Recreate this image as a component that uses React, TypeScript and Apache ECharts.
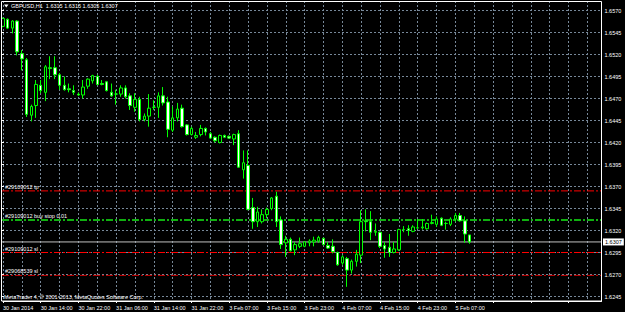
import { useEffect, useRef } from 'react';
import * as echarts from 'echarts';

const symbol = 'GBPUSD,H1';
const copyright = 'MetaTrader 4, © 2001-2013, MetaQuotes Software Corp.';

const opens = [
  1.6552, 1.6560, 1.6550, 1.6558, 1.6521, 1.6514, 1.6451, 1.6462, 1.6485, 1.6477,
  1.6505, 1.6505, 1.6497, 1.6485, 1.6481, 1.6479, 1.6475, 1.6474, 1.6484, 1.6490,
  1.6495, 1.6487, 1.6489, 1.6477, 1.6475, 1.6475, 1.6482, 1.6473, 1.6460, 1.6469,
  1.6446, 1.6450, 1.6460, 1.6460, 1.6473, 1.6466, 1.6434, 1.6448, 1.6459, 1.6440,
  1.6429, 1.6426, 1.6429, 1.6436, 1.6430, 1.6426, 1.6420, 1.6428, 1.6427, 1.6424,
  1.6430, 1.6389, 1.6394, 1.6346, 1.6330, 1.6330, 1.6338, 1.6345, 1.6359, 1.6332,
  1.6306, 1.6310, 1.6298, 1.6302, 1.6302, 1.6306, 1.6307, 1.6308, 1.6311, 1.6303,
  1.6302, 1.6295, 1.6283, 1.6288, 1.6275, 1.6285, 1.6292, 1.6331, 1.6330, 1.6318,
  1.6318, 1.6303, 1.6301, 1.6295, 1.6298, 1.6321, 1.6322, 1.6319, 1.6323, 1.6323,
  1.6322, 1.6328, 1.6327, 1.6334, 1.6328, 1.6327, 1.6333, 1.6337, 1.6331, 1.6315,
];
const highs = [
  1.6562, 1.6561, 1.6559, 1.6559, 1.6525, 1.6516, 1.6463, 1.6491, 1.6491, 1.6508,
  1.6518, 1.6518, 1.6499, 1.6495, 1.6487, 1.6485, 1.6477, 1.6491, 1.6493, 1.6497,
  1.6497, 1.6491, 1.6490, 1.6487, 1.6480, 1.6485, 1.6485, 1.6476, 1.6476, 1.6472,
  1.6453, 1.6475, 1.6468, 1.6477, 1.6483, 1.6472, 1.6461, 1.6465, 1.6463, 1.6441,
  1.6438, 1.6432, 1.6440, 1.6437, 1.6432, 1.6427, 1.6429, 1.6429, 1.6428, 1.6430,
  1.6434, 1.6411, 1.6411, 1.6357, 1.6347, 1.6344, 1.6346, 1.6358, 1.6364, 1.6336,
  1.6314, 1.6312, 1.6307, 1.6312, 1.6308, 1.6310, 1.6313, 1.6314, 1.6312, 1.6307,
  1.6310, 1.6296, 1.6292, 1.6290, 1.6287, 1.6298, 1.6343, 1.6344, 1.6342, 1.6328,
  1.6319, 1.6307, 1.6316, 1.6307, 1.6322, 1.6325, 1.6326, 1.6326, 1.6333, 1.6333,
  1.6329, 1.6338, 1.6336, 1.6335, 1.6330, 1.6335, 1.6340, 1.6340, 1.6336, 1.6315,
];
const lows = [
  1.6551, 1.6549, 1.6544, 1.6519, 1.6502, 1.6449, 1.6444, 1.6448, 1.6476, 1.6467,
  1.6492, 1.6492, 1.6480, 1.6479, 1.6477, 1.6474, 1.6473, 1.6470, 1.6481, 1.6487,
  1.6485, 1.6485, 1.6478, 1.6472, 1.6463, 1.6472, 1.6470, 1.6457, 1.6455, 1.6444,
  1.6444, 1.6438, 1.6457, 1.6448, 1.6462, 1.6426, 1.6432, 1.6444, 1.6437, 1.6428,
  1.6428, 1.6424, 1.6427, 1.6428, 1.6424, 1.6420, 1.6419, 1.6425, 1.6424, 1.6417,
  1.6391, 1.6379, 1.6343, 1.6322, 1.6324, 1.6328, 1.6334, 1.6343, 1.6324, 1.6299,
  1.6290, 1.6296, 1.6292, 1.6300, 1.6301, 1.6302, 1.6302, 1.6306, 1.6303, 1.6299,
  1.6294, 1.6280, 1.6281, 1.6256, 1.6271, 1.6279, 1.6283, 1.6319, 1.6309, 1.6314,
  1.6300, 1.6289, 1.6290, 1.6294, 1.6297, 1.6318, 1.6314, 1.6318, 1.6322, 1.6321,
  1.6321, 1.6327, 1.6324, 1.6325, 1.6321, 1.6325, 1.6330, 1.6330, 1.6306, 1.6305,
];
const closes = [
  1.6561, 1.6550, 1.6558, 1.6523, 1.6515, 1.6452, 1.6461, 1.6486, 1.6479, 1.6506,
  1.6504, 1.6497, 1.6485, 1.6480, 1.6480, 1.6477, 1.6474, 1.6483, 1.6492, 1.6496,
  1.6486, 1.6486, 1.6479, 1.6473, 1.6475, 1.6482, 1.6472, 1.6462, 1.6469, 1.6446,
  1.6450, 1.6459, 1.6460, 1.6473, 1.6465, 1.6435, 1.6448, 1.6458, 1.6438, 1.6429,
  1.6436, 1.6428, 1.6436, 1.6432, 1.6425, 1.6422, 1.6428, 1.6426, 1.6425, 1.6429,
  1.6392, 1.6397, 1.6344, 1.6330, 1.6341, 1.6338, 1.6344, 1.6357, 1.6330, 1.6304,
  1.6310, 1.6297, 1.6304, 1.6305, 1.6307, 1.6308, 1.6309, 1.6312, 1.6304, 1.6300,
  1.6296, 1.6281, 1.6290, 1.6275, 1.6285, 1.6293, 1.6330, 1.6330, 1.6318, 1.6319,
  1.6302, 1.6299, 1.6295, 1.6299, 1.6321, 1.6321, 1.6320, 1.6324, 1.6323, 1.6324,
  1.6328, 1.6329, 1.6333, 1.6326, 1.6328, 1.6333, 1.6337, 1.6331, 1.6316, 1.6307,
];

// one label every 8 hourly bars, starting at bar 0
const timeLabels = [
  '30 Jan 2014', '30 Jan 14:00', '30 Jan 22:00', '31 Jan 06:00', '31 Jan 14:00',
  '31 Jan 22:00', '3 Feb 07:00', '3 Feb 15:00', '3 Feb 23:00', '4 Feb 07:00',
  '4 Feb 15:00', '4 Feb 23:00', '5 Feb 07:00',
];
const slotCount = 128; // bars + empty space on the right

const priceMin = 1.6245;
const priceMax = 1.6570;
const priceStep = 0.0025;

const orderLabels = ['#29109012 tp', '#29109012 buy stop 0.01', '#29109012 sl', '#29068539 sl'];
const orderPrices = [1.6365, 1.6332, 1.6295, 1.6269];
const orderColors = ['#ff0000', '#10b010', '#ff0000', '#d00000'];
const orderWidths = [1, 2, 1, 1];
const bidPrice = 1.6307;

const FONT = 'Liberation Sans';
const GRID_COLOR = '#778899';
const FS = 5.5;

export default function App() {
  const ref = useRef<HTMLDivElement>(null);
  useEffect(() => {
    if (!ref.current) return;
    const chart = echarts.init(ref.current, null, { renderer: 'svg' });
    const categories = Array.from({ length: slotCount }, (_, i) => String(i));
    const candles = opens.map((o, i) => [o, closes[i], lows[i], highs[i]]);
    const last = opens.length - 1;
    const header = `${symbol}  ${opens[last].toFixed(4)} ${highs[last].toFixed(4)} ${lows[last].toFixed(4)} ${closes[last].toFixed(4)}`;

    // grid 1 maps priceMin..priceMax to y 296.5..10.5; grid 0 spans the full frame
    const pxPerUnit = 286 / (priceMax - priceMin);
    const y0Max = priceMax + 9.5 / pxPerUnit;
    const y0Min = priceMin - 4.5 / pxPerUnit;

    const lineSeries: any[] = orderPrices.map((p, k) => ({
      type: 'line',
      xAxisIndex: 1,
      yAxisIndex: 1,
      data: [[0, p], [1, p]],
      symbol: 'none',
      silent: true,
      z: 3,
      lineStyle: { color: orderColors[k], type: [7, 2, 2, 2], width: orderWidths[k] },
    }));
    lineSeries.push({
      type: 'line',
      xAxisIndex: 1,
      yAxisIndex: 1,
      data: [[0, bidPrice], [1, bidPrice]],
      symbol: 'none',
      silent: true,
      z: 3,
      lineStyle: { color: '#c0c0c0', type: 'solid', width: 1 },
    });

    chart.setOption({
      animation: false,
      backgroundColor: '#000000',
      grid: [
        { left: 2, right: 23.5, top: 1, bottom: 11 },
        { left: 2, right: 23.5, top: 10.5, bottom: 15.5 },
      ],
      xAxis: [
        {
          type: 'category',
          gridIndex: 0,
          data: categories,
          boundaryGap: false,
          axisLine: { show: true, lineStyle: { color: '#ffffff', width: 1 } },
          axisTick: {
            show: true,
            interval: (i: number) => i % 8 === 0,
            length: 2,
            lineStyle: { color: '#ffffff' },
          },
          axisLabel: {
            interval: (i: number) => i % 8 === 0 && i / 8 < timeLabels.length,
            formatter: (_v: string, i: number) => timeLabels[i / 8] ?? '',
            align: 'left',
            color: '#ffffff',
            fontSize: FS,
            fontFamily: FONT,
            margin: 4,
          },
          splitLine: {
            show: true,
            interval: (i: number) => i % 4 === 0,
            lineStyle: { color: GRID_COLOR, type: [2, 2], width: 1 },
          },
        },
        { type: 'value', gridIndex: 1, min: 0, max: 1, show: false },
      ],
      yAxis: [
        { type: 'value', gridIndex: 0, min: y0Min, max: y0Max, show: false, scale: true },
        {
          type: 'value',
          gridIndex: 1,
          position: 'right',
          min: priceMin,
          max: priceMax,
          interval: priceStep,
          axisLine: { show: false },
          axisTick: { show: true, length: 2, lineStyle: { color: '#ffffff' } },
          axisLabel: {
            formatter: (v: number) => v.toFixed(4),
            color: '#ffffff',
            fontSize: FS,
            fontFamily: FONT,
            margin: 3,
          },
          splitLine: { show: true, lineStyle: { color: GRID_COLOR, type: [2, 2], width: 1 } },
        },
      ],
      series: [
        {
          type: 'candlestick',
          xAxisIndex: 0,
          yAxisIndex: 0,
          data: candles,
          barWidth: 3,
          clip: true,
          z: 4,
          itemStyle: {
            color: '#000000',
            color0: '#ffffff',
            borderColor: '#00ff00',
            borderColor0: '#00ff00',
            borderColorDoji: '#00ff00',
            borderWidth: 1,
          },
        },
        ...lineSeries,
      ],
    });

    const yOf = (p: number) => chart.convertToPixel({ yAxisIndex: 1 }, p) as number;
    const graphics: any[] = [
      {
        type: 'rect',
        shape: { x: 1.5, y: 1.5, width: 600, height: 299.5 },
        style: { fill: 'none', stroke: '#ffffff', lineWidth: 1 },
        z: 10,
      },
      {
        type: 'polygon',
        shape: { points: [[4, 4.5], [8.5, 4.5], [6.25, 7.5]] },
        style: { fill: '#ffffff' },
      },
      {
        type: 'text',
        x: 11,
        y: 6,
        style: { text: header, fill: '#ffffff', fontSize: FS, fontFamily: FONT, verticalAlign: 'middle' },
      },
      {
        type: 'text',
        x: 4,
        y: 297,
        style: { text: copyright, fill: '#ffffff', fontSize: FS, fontFamily: FONT, verticalAlign: 'middle' },
      },
      {
        type: 'text',
        x: 603,
        y: yOf(bidPrice),
        z: 11,
        style: {
          text: bidPrice.toFixed(4),
          fill: '#000000',
          backgroundColor: '#ffffff',
          padding: [1, 2, 0, 2],
          fontSize: FS,
          fontFamily: FONT,
          verticalAlign: 'middle',
        },
      },
    ];
    orderLabels.forEach((t, k) => {
      graphics.push({
        type: 'text',
        x: 5,
        y: yOf(orderPrices[k]) - 1,
        z: 11,
        style: { text: t, fill: '#ffffff', fontSize: FS, fontFamily: FONT, verticalAlign: 'bottom' },
      });
    });
    chart.setOption({ graphic: graphics });
    return () => chart.dispose();
  }, []);
  return <div ref={ref} style={{ width: 625, height: 312, position: 'fixed', left: 0, top: 0 }} />;
}
